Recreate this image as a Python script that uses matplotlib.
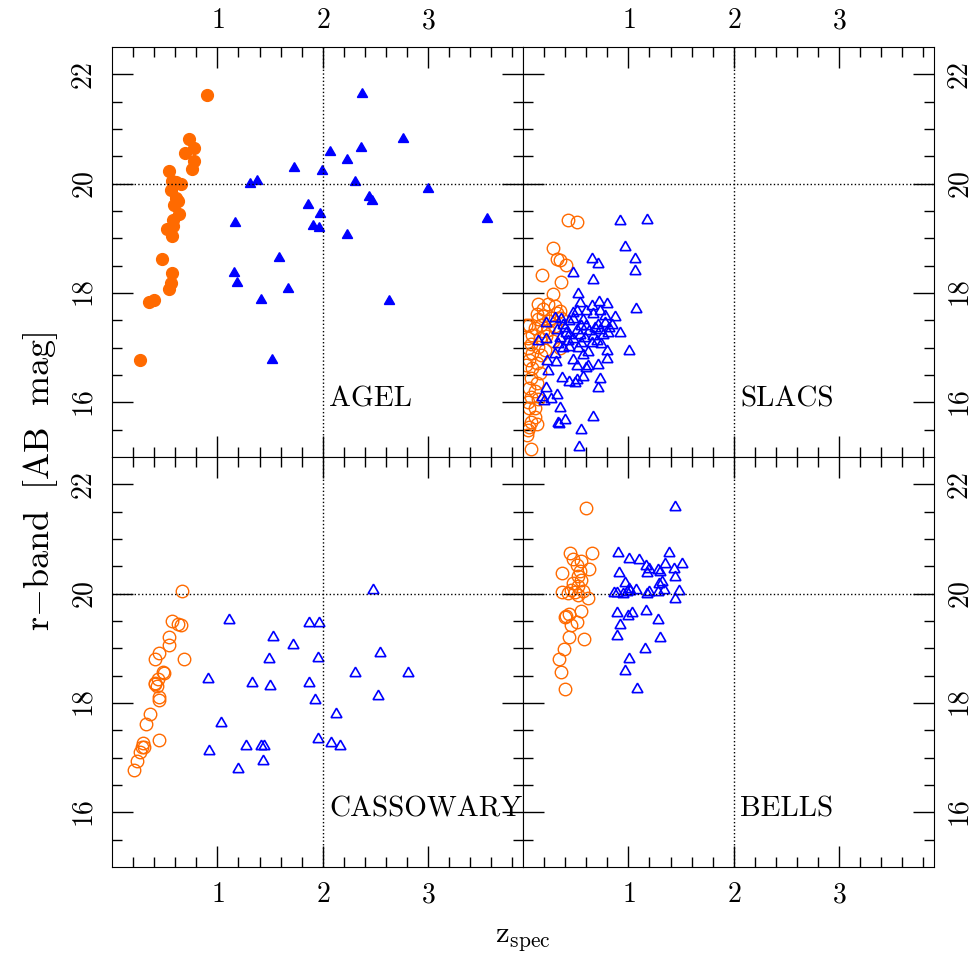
import numpy as np
import matplotlib
matplotlib.use("Agg")
import matplotlib.pyplot as plt

plt.rcParams['font.family'] = ['cmr10', 'DejaVu Serif']
plt.rcParams['mathtext.fontset'] = 'cm'
plt.rcParams['axes.formatter.use_mathtext'] = True

# AGEL: lenses (orange) and sources (blue)
agel_lens_z = [0.90, 0.73, 0.78, 0.69, 0.78, 0.76, 0.54, 0.57, 0.65, 0.61, 0.56, 0.61, 0.63,
               0.585, 0.64, 0.58, 0.58, 0.52, 0.57, 0.47, 0.57, 0.56, 0.54, 0.35, 0.40, 0.27]
agel_lens_r = [21.63, 20.82, 20.66, 20.57, 20.42, 20.26, 20.23, 20.04, 20.0, 20.03, 19.89, 19.74, 19.68,
               19.61, 19.45, 19.34, 19.23, 19.17, 19.05, 18.62, 18.36, 18.18, 18.07, 17.84, 17.87, 16.77]
agel_src_z = [2.37, 2.76, 2.36, 2.07, 2.23, 1.73, 1.99, 1.31, 1.38, 2.31, 3.0, 2.44, 2.47, 1.86,
              1.97, 3.56, 1.17, 1.91, 1.96, 2.23, 1.58, 1.16, 1.19, 1.67, 1.41, 2.63, 1.52]
agel_src_r = [21.64, 20.82, 20.66, 20.58, 20.43, 20.28, 20.24, 20.0, 20.04, 20.03, 19.90, 19.75, 19.69, 19.61,
              19.45, 19.36, 19.28, 19.22, 19.18, 19.07, 18.64, 18.37, 18.18, 18.08, 17.88, 17.85, 16.77]

# SLACS
slacs_lens_z = [0.43, 0.51, 0.28, 0.32, 0.35, 0.41, 0.18, 0.36, 0.28, 0.14, 0.24, 0.30, 0.35, 0.13,
                0.19, 0.27, 0.06, 0.11, 0.17, 0.24, 0.30, 0.09, 0.16, 0.22, 0.28, 0.08, 0.14, 0.21,
                0.35, 0.06, 0.13, 0.09, 0.16, 0.08, 0.13, 0.06, 0.11, 0.08, 0.05, 0.06, 0.11, 0.08,
                0.06, 0.05, 0.08, 0.03, 0.05, 0.19, 0.25, 0.14, 0.32, 0.05, 0.17, 0.09, 0.03, 0.14,
                0.11, 0.13, 0.04, 0.36, 0.19]
slacs_lens_r = [19.33, 19.29, 18.83, 18.63, 18.61, 18.52, 18.33, 18.21, 17.98, 17.80, 17.79, 17.76, 17.67, 17.61,
                17.58, 17.55, 17.42, 17.36, 17.42, 17.33, 17.39, 17.24, 17.18, 17.21, 17.12, 17.06, 17.02, 16.96,
                16.99, 16.78, 16.72, 16.63, 16.53, 16.44, 16.35, 16.26, 16.20, 16.10, 16.01, 15.89, 15.74, 15.64,
                15.55, 15.49, 15.15, 17.42, 17.18, 17.30, 17.48, 17.52, 17.63, 16.99, 16.87, 16.90, 16.69, 16.07,
                15.89, 15.61, 15.40, 17.55, 17.70]
slacs_src_z = [0.92, 1.18, 0.97, 0.65, 1.06, 0.71, 1.06, 0.47, 0.66, 0.52, 1.07, 0.80, 0.72, 0.54,
               0.65, 0.47, 0.87, 0.78, 0.66, 0.30, 0.38, 0.22, 0.44, 0.57, 0.71, 0.82, 0.92, 0.51,
               0.63, 0.76, 0.41, 0.32, 0.14, 0.22, 0.35, 0.47, 0.59, 0.70, 0.33, 0.44, 0.52, 0.65,
               0.74, 1.01, 0.80, 0.62, 0.57, 0.30, 0.47, 0.80, 0.23, 0.31, 0.62, 0.71, 0.51, 0.24,
               0.60, 0.57, 0.37, 0.73, 0.44, 0.49, 0.51, 0.71, 0.22, 0.32, 0.18, 0.27, 0.20, 0.35,
               0.66, 0.40, 0.33, 0.34, 0.55, 0.53, 0.36, 0.51, 0.60, 0.73, 0.55, 0.68, 0.78, 0.84,
               0.44, 0.54, 0.60, 0.40, 0.47, 0.81, 0.43, 0.55, 0.38, 0.66, 0.73]
slacs_src_r = [19.31, 19.34, 18.85, 18.63, 18.63, 18.53, 18.40, 18.36, 18.23, 17.99, 17.71, 17.80, 17.83, 17.82,
               17.76, 17.64, 17.56, 17.58, 17.61, 17.55, 17.42, 17.45, 17.48, 17.51, 17.42, 17.36, 17.27, 17.33,
               17.30, 17.24, 17.27, 17.33, 17.13, 17.15, 17.18, 17.15, 17.18, 17.12, 17.06, 17.02, 16.99, 17.08,
               17.06, 16.93, 16.94, 16.92, 16.87, 16.88, 16.78, 16.80, 16.76, 16.74, 16.66, 16.69, 16.66, 16.58,
               16.63, 16.47, 16.44, 16.42, 16.37, 16.35, 16.41, 16.26, 16.26, 16.13, 16.10, 16.07, 16.02, 15.89,
               15.74, 15.67, 15.63, 15.60, 15.50, 15.18, 17.52, 17.67, 17.67, 17.67, 17.39, 17.36, 17.45, 17.42,
               17.24, 17.24, 17.39, 17.36, 17.53, 17.27, 17.12, 17.09, 16.99, 17.21, 17.33]

# CASSOWARY
cass_lens_z = [0.66, 0.57, 0.63, 0.65, 0.54, 0.54, 0.45, 0.41, 0.68, 0.48, 0.49, 0.44, 0.41,
               0.43, 0.41, 0.45, 0.45, 0.36, 0.32, 0.45, 0.29, 0.30, 0.28, 0.27, 0.24, 0.21]
cass_lens_r = [20.05, 19.50, 19.44, 19.42, 19.20, 19.07, 18.91, 18.81, 18.80, 18.56, 18.54, 18.43, 18.34,
               18.31, 18.36, 18.11, 18.05, 17.79, 17.62, 17.33, 17.26, 17.20, 17.19, 17.10, 16.93, 16.77]
cass_src_z = [2.48, 1.11, 1.87, 1.96, 1.53, 1.72, 1.49, 1.95, 2.54, 2.31, 2.81, 0.91, 1.33, 1.50,
              1.87, 2.52, 1.93, 2.13, 1.03, 1.95, 2.08, 2.16, 1.27, 1.41, 1.44, 0.92, 1.43, 1.20]
cass_src_r = [20.07, 19.51, 19.46, 19.46, 19.20, 19.07, 18.81, 18.83, 18.91, 18.55, 18.55, 18.43, 18.37, 18.32,
              18.36, 18.12, 18.06, 17.80, 17.63, 17.34, 17.27, 17.21, 17.22, 17.22, 17.22, 17.13, 16.94, 16.79]

# BELLS
bells_lens_z = [0.60, 0.45, 0.65, 0.47, 0.55, 0.51, 0.63, 0.54, 0.37, 0.52, 0.55, 0.47, 0.52, 0.46,
                0.37, 0.49, 0.57, 0.43, 0.52, 0.62, 0.55, 0.40, 0.44, 0.41, 0.51, 0.46, 0.58, 0.44,
                0.39, 0.34, 0.36, 0.40]
bells_lens_r = [21.56, 20.75, 20.75, 20.63, 20.60, 20.53, 20.45, 20.41, 20.37, 20.33, 20.25, 20.20, 20.14, 20.07,
                20.03, 20.03, 20.04, 20.01, 19.98, 19.92, 19.69, 19.58, 19.63, 19.60, 19.49, 19.43, 19.17, 19.21,
                18.98, 18.80, 18.57, 18.25]
bells_src_z = [1.44, 0.90, 1.39, 1.01, 1.10, 1.17, 1.20, 1.28, 1.35, 1.43, 1.51, 0.91, 1.18, 1.30,
               1.44, 0.97, 1.29, 1.32, 1.01, 1.07, 0.86, 0.89, 0.95, 0.99, 1.02, 1.18, 1.20, 1.28,
               1.34, 1.48, 1.44, 0.89, 1.00, 1.03, 1.17, 1.28, 0.92, 0.89, 1.30, 1.16, 1.01, 0.97, 1.08]
bells_src_r = [21.58, 20.75, 20.75, 20.64, 20.61, 20.51, 20.45, 20.44, 20.55, 20.45, 20.54, 20.37, 20.38, 20.40,
               20.31, 20.20, 20.18, 20.21, 20.09, 20.07, 20.02, 20.01, 20.0, 20.03, 20.05, 20.0, 20.03, 20.03,
               20.06, 20.04, 19.91, 19.64, 19.60, 19.64, 19.69, 19.51, 19.43, 19.23, 19.18, 18.99, 18.81, 18.59, 18.26]

panel_names = ["AGEL", "SLACS", "CASSOWARY", "BELLS"]

orange = "#FF6A00"
blue = "#0000FF"
tri = (3, 0, 0)

fig, axs = plt.subplots(2, 2, figsize=(9.75, 9.62), dpi=100)
plt.subplots_adjust(left=112/975, right=934/975, top=1-48/962, bottom=1-868/962,
                    wspace=0, hspace=0)

data = [
    (agel_lens_z, agel_lens_r, agel_src_z, agel_src_r, True),
    (slacs_lens_z, slacs_lens_r, slacs_src_z, slacs_src_r, False),
    (cass_lens_z, cass_lens_r, cass_src_z, cass_src_r, False),
    (bells_lens_z, bells_lens_r, bells_src_z, bells_src_r, False),
]

for i, ax in enumerate(axs.flat):
    lz, lr, sz, sr, filled = data[i]
    if filled:
        ax.plot(lz, lr, 'o', color=orange, ms=8.5, mec=orange, ls='none')
        ax.plot(sz, sr, marker=tri, color=blue, ms=8.5, mec=blue, ls='none')
    else:
        ax.plot(lz, lr, 'o', mfc='none', mec=orange, ms=9, mew=1.0, ls='none')
        ax.plot(sz, sr, marker=tri, mfc='none', mec=blue, ms=9, mew=1.2, ls='none')

    ax.axvline(2, color='k', ls=':', lw=1)
    ax.axhline(20, color='k', ls=':', lw=1)

    ax.set_xlim(0, 3.9)
    ax.set_ylim(15, 22.5)
    ax.set_xticks([1, 2, 3])
    ax.set_xticks(np.arange(0.2, 3.9, 0.2), minor=True)
    ax.set_yticks([16, 18, 20, 22])
    ax.set_yticks(np.arange(15.5, 22.5, 0.5), minor=True)
    ax.tick_params(which='both', direction='in', top=True, bottom=True, left=True, right=True,
                   width=1, labelsize=20)
    ax.tick_params(which='major', length=15)
    ax.tick_params(which='minor', length=7.5)

    row, col = divmod(i, 2)
    ax.tick_params(axis='x', labeltop=(row == 0), labelbottom=(row == 1), pad=10)
    ax.tick_params(axis='y', labelleft=(col == 0), labelright=(col == 1), pad=10)
    for lab in ax.get_yticklabels():
        lab.set_rotation(90)
        lab.set_va('center')

    ax.text(2.06, 15.95, panel_names[i], fontsize=21, ha='left', va='baseline')

fig.text(0.042, 0.5, r'$\mathrm{r{-}band\ \ [AB\ \ mag]}$', rotation=90, fontsize=26,
         ha='center', va='center')
fig.text(523/975, 1-940/962, r'$\mathrm{z_{spec}}$', fontsize=22, ha='center', va='center')

plt.savefig("out.png", dpi=100)
